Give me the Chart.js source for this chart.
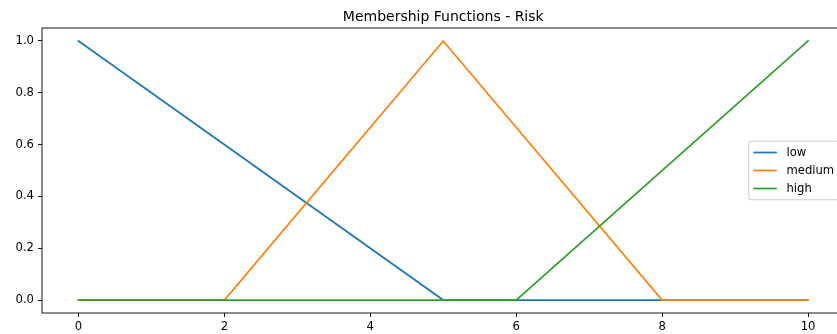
<!DOCTYPE html>
<html>
<head>
<meta charset="utf-8">
<style>
  html, body { margin: 0; padding: 0; background: #ffffff; overflow: hidden; }
  #wrap { width: 837px; height: 334px; overflow: hidden; }
  canvas { display: block; }
</style>
<script src="https://cdn.jsdelivr.net/npm/chart.js@4/dist/chart.umd.min.js"></script>
</head>
<body>
<div id="wrap"><canvas id="chart" width="850" height="334"></canvas></div>
<script>
// Membership functions of the "Risk" variable (universe 0..10)
const chartTitle = 'Membership Functions - Risk';
const seriesNames = ['low', 'medium', 'high'];
const seriesColors = ['#1f77b4', '#ff7f0e', '#2ca02c'];

const lowX = [0, 5, 10];
const lowY = [1, 0, 0];
const mediumX = [0, 2, 5, 8, 10];
const mediumY = [0, 0, 1, 0, 0];
const highX = [0, 6, 10];
const highY = [0, 0, 1];

const xTicks = [0, 2, 4, 6, 8, 10];
const yTicks = [0, 0.2, 0.4, 0.6, 0.8, 1.0];

const FONT = "'DejaVu Sans', 'Liberation Sans', sans-serif";
const TICK_FS = 11.6;
const TITLE_FS = 14;
const LINE_W = 1.7;
const SPINE_W = 0.9;

function toPoints(xs, ys) {
  return xs.map((x, i) => ({ x: x, y: ys[i] }));
}

const seriesData = [toPoints(lowX, lowY), toPoints(mediumX, mediumY), toPoints(highX, highY)];

const datasets = seriesNames.map((name, i) => ({
  label: name,
  data: seriesData[i],
  borderColor: seriesColors[i],
  backgroundColor: seriesColors[i],
  borderWidth: LINE_W,
  pointRadius: 0,
  pointHoverRadius: 0,
  tension: 0,
  fill: false,
  borderCapStyle: 'square',
  // later series are painted over earlier ones
  order: seriesNames.length - i
}));

// Title above the axes box
const titlePlugin = {
  id: 'plotTitle',
  afterDraw(chart) {
    const { ctx, chartArea } = chart;
    ctx.save();
    ctx.font = TITLE_FS + 'px ' + FONT;
    ctx.fillStyle = '#000000';
    ctx.textAlign = 'center';
    ctx.textBaseline = 'alphabetic';
    ctx.fillText(chartTitle, (chartArea.left + chartArea.right) / 2, chartArea.top - 7);
    ctx.restore();
  }
};

// Four spines around the plotting area
const spinePlugin = {
  id: 'spines',
  afterDatasetsDraw(chart) {
    const { ctx, chartArea: a } = chart;
    ctx.save();
    ctx.strokeStyle = '#000000';
    ctx.lineWidth = SPINE_W;
    ctx.strokeRect(a.left, a.top, a.right - a.left, a.bottom - a.top);
    ctx.restore();
  }
};

// Framed legend at the right, vertically centred in the axes
const legendPlugin = {
  id: 'boxLegend',
  afterDraw(chart) {
    const { ctx, chartArea: a } = chart;
    const fs = TICK_FS;
    const rowH = 18;
    const n = chart.data.datasets.length;
    ctx.save();
    ctx.font = fs + 'px ' + FONT;
    const labels = chart.data.datasets.map(d => d.label);
    const textW = Math.max(...labels.map(t => ctx.measureText(t).width));
    const pad = 4.6, handle = 23.5, gap = 9.6;
    const boxW = pad + handle + gap + textW + pad;
    const boxH = n * rowH + 4.5;
    const right = a.right - 5.8;
    const left = right - boxW;
    const top = (a.top + a.bottom) / 2 - boxH / 2;
    ctx.beginPath();
    ctx.roundRect(left, top, boxW, boxH, 2.3);
    ctx.fillStyle = 'rgba(255,255,255,0.8)';
    ctx.fill();
    ctx.strokeStyle = '#cccccc';
    ctx.lineWidth = 1;
    ctx.stroke();
    chart.data.datasets.forEach((d, i) => {
      const cy = top + 2.25 + rowH * i + rowH / 2;
      ctx.beginPath();
      ctx.moveTo(left + pad, cy);
      ctx.lineTo(left + pad + handle, cy);
      ctx.strokeStyle = d.borderColor;
      ctx.lineWidth = LINE_W;
      ctx.stroke();
      ctx.fillStyle = '#000000';
      ctx.textAlign = 'left';
      ctx.textBaseline = 'middle';
      ctx.fillText(d.label, left + pad + handle + gap, cy);
    });
    ctx.restore();
  }
};

new Chart(document.getElementById('chart'), {
  type: 'line',
  data: { datasets: datasets },
  plugins: [titlePlugin, spinePlugin, legendPlugin],
  options: {
    responsive: false,
    animation: false,
    devicePixelRatio: 1,
    layout: { padding: { top: 28, right: 5.5, left: 0, bottom: 0 } },
    plugins: {
      legend: { display: false },
      title: { display: false },
      tooltip: { enabled: false }
    },
    scales: {
      x: {
        type: 'linear',
        min: -0.5,
        max: 10.5,
        afterBuildTicks(scale) { scale.ticks = xTicks.map(v => ({ value: v })); },
        afterFit(scale) { scale.height = 21; },
        border: { display: false },
        grid: {
          drawOnChartArea: false,
          drawTicks: true,
          tickLength: 4,
          color: '#000000',
          lineWidth: SPINE_W
        },
        ticks: {
          autoSkip: false,
          maxRotation: 0,
          padding: 3.5,
          color: '#000000',
          font: { family: FONT, size: TICK_FS },
          callback: v => String(v)
        }
      },
      y: {
        type: 'linear',
        min: -0.05,
        max: 1.05,
        afterBuildTicks(scale) { scale.ticks = yTicks.map(v => ({ value: v })); },
        afterFit(scale) { scale.width = 42; },
        border: { display: false },
        grid: {
          drawOnChartArea: false,
          drawTicks: true,
          tickLength: 4,
          color: '#000000',
          lineWidth: SPINE_W
        },
        ticks: {
          autoSkip: false,
          padding: 4,
          color: '#000000',
          font: { family: FONT, size: TICK_FS },
          callback: v => Number(v).toFixed(1)
        }
      }
    }
  }
});
</script>
</body>
</html>
